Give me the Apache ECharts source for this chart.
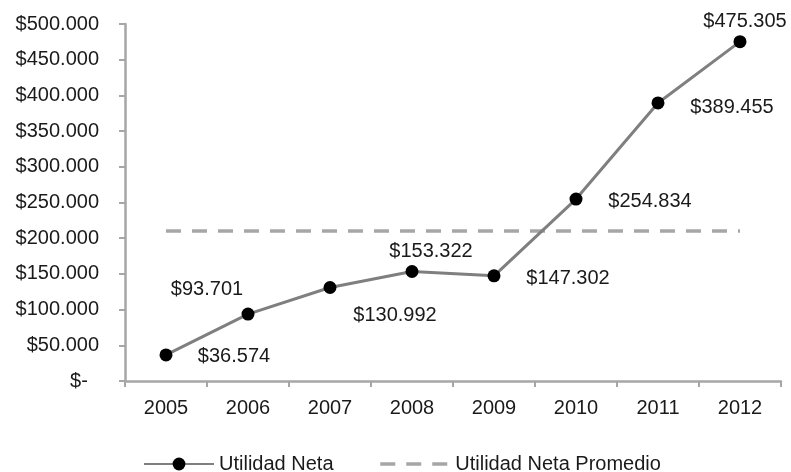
<!DOCTYPE html>
<html>
<head>
<meta charset="utf-8">
<script src="https://cdn.jsdelivr.net/npm/echarts@6/dist/echarts.min.js"></script>
<style>
  html, body { margin: 0; padding: 0; background: #ffffff; }
  #chart { width: 791px; height: 472px; }
</style>
</head>
<body>
<div id="chart"></div>
<script>
// Años y utilidad neta anual
var years = ['2005', '2006', '2007', '2008', '2009', '2010', '2011', '2012'];
var utilidadNeta = [36574, 93701, 130992, 153322, 147302, 254834, 389455, 475305];
var utilidadPromedio = [210186, 210186, 210186, 210186, 210186, 210186, 210186, 210186];
var serieNombres = ['Utilidad Neta', 'Utilidad Neta Promedio'];

// Desplazamiento de cada etiqueta respecto a su punto (px)
var labelOffsets = [[68, 2], [-41, -25], [65, 28], [19, -20], [74, 3], [74, 2], [74, 5], [5, -20]];

var FONT = '"Liberation Sans", Arial, Helvetica, sans-serif';
var TEXT = '#1a1a1a';
var AXIS = '#a6a6a6';
var DASHED = { color: '#a6a6a6', width: 3.5, type: [15, 11] };

function pesos(v) {
  if (v === 0) return '$-  ';
  return '$' + String(Math.round(v)).replace(/\B(?=(\d{3})+(?!\d))/g, '.');
}

var chart = echarts.init(document.getElementById('chart'), null, { renderer: 'canvas' });

var netaData = utilidadNeta.map(function (v, i) {
  return {
    value: v,
    label: { offset: labelOffsets[i] }
  };
});

chart.setOption({
  animation: false,
  backgroundColor: '#ffffff',
  textStyle: { fontFamily: FONT },
  grid: { left: 125, right: 10, top: 24, bottom: 91, containLabel: false },
  legend: {
    data: [
      { name: serieNombres[0] },
      // la línea promedio no lleva marcador en la leyenda
      { name: serieNombres[1], itemStyle: { opacity: 0 }, lineStyle: DASHED }
    ],
    left: 138,
    top: 449,
    itemWidth: 70,
    itemHeight: 16,
    itemGap: 45,
    textStyle: { fontFamily: FONT, fontSize: 20, color: TEXT }
  },
  xAxis: {
    type: 'category',
    data: years,
    boundaryGap: true,
    axisLine: { show: true, lineStyle: { color: AXIS, width: 2.5 } },
    axisTick: { show: true, interval: 0, length: 6, lineStyle: { color: AXIS, width: 2 } },
    axisLabel: { interval: 0, margin: 17, fontSize: 20, color: TEXT, fontFamily: FONT },
    splitLine: { show: false }
  },
  yAxis: {
    type: 'value',
    min: 0,
    max: 500000,
    interval: 50000,
    axisLine: { show: true, lineStyle: { color: AXIS, width: 2.5 } },
    axisTick: { show: true, length: 6, lineStyle: { color: AXIS, width: 2 } },
    axisLabel: { margin: 26, fontSize: 20, color: TEXT, fontFamily: FONT, formatter: pesos },
    splitLine: { show: false }
  },
  series: [
    {
      name: serieNombres[1],
      type: 'line',
      data: utilidadPromedio,
      symbol: 'none',
      z: 2,
      itemStyle: { color: '#a6a6a6' },
      lineStyle: DASHED
    },
    {
      name: serieNombres[0],
      type: 'line',
      data: netaData,
      symbol: 'circle',
      symbolSize: 13,
      z: 3,
      itemStyle: { color: '#000000' },
      lineStyle: { color: '#7f7f7f', width: 3 },
      label: {
        show: true,
        position: 'inside',
        align: 'center',
        verticalAlign: 'middle',
        fontSize: 20,
        fontFamily: FONT,
        color: TEXT,
        formatter: function (p) { return pesos(p.value); }
      }
    }
  ]
});
</script>
</body>
</html>
